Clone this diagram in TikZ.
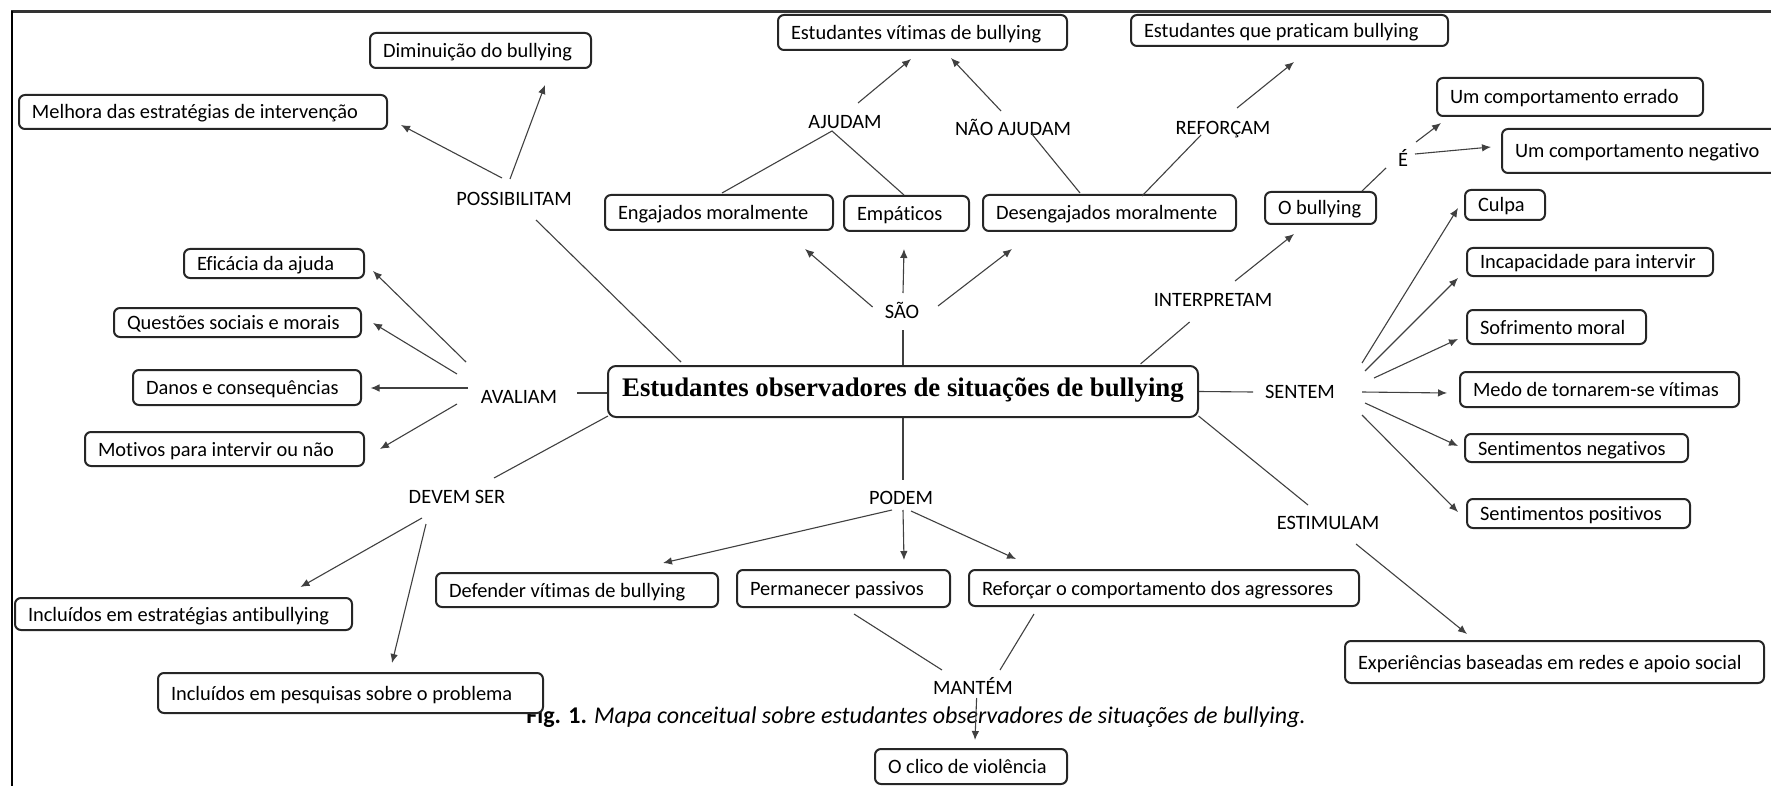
\documentclass[tikz,border=0pt]{standalone}
\usepackage{fontspec}
\setmainfont{Carlito}[Ligatures={NoCommon}]
\newfontfamily\titlefont{Liberation Serif}
\usetikzlibrary{arrows.meta,calc}
\tikzset{
  cbox/.style={draw=black!85, line width=1pt, rounded corners=3pt, fill=white,
    inner xsep=6.5pt, inner ysep=0pt, text height=8.5pt, text depth=1.5pt,
    font=\fontsize{10.2}{12}\selectfont},
  lbl/.style={inner sep=0pt, text height=6.6pt, text depth=0pt,
    font=\fontsize{10.2}{12}\selectfont},
  con/.style={draw=black!75, line width=0.55pt},
  arr/.style={con, -{Latex[length=4.5pt,width=3.8pt]}},
}
\newcommand\mybox[6]{%
  \pgfmathsetlengthmacro\myboxw{(#4-#2)*0.5pt-13pt}%
  \pgfmathsetlengthmacro\myboxh{(#5-#3)*0.5pt}%
  \node[cbox, minimum height=\myboxh, anchor=north west] (#1) at (#2,#3) {\makebox[\myboxw][l]{#6}};%
}
\begin{document}
\begin{tikzpicture}[x=0.5pt,y=-0.5pt]
\useasboundingbox (0,0) rectangle (1771,786);
\clip (0,0) rectangle (1771,786);
% frame
\draw[black!80, line width=1.1pt] (11,11.5) -- (1771,11.5);
\draw[black, line width=1.3pt] (12,11) -- (12,786);
% caption
\node[anchor=base west, inner sep=0pt, font=\fontsize{12}{14}\selectfont] (cap) at (526,723)
  {\textbf{Fig. 1.} \textit{Mapa conceitual sobre estudantes observadores de situações de bullying.}};
% central node
\node[draw=black!85, line width=1pt, rounded corners=4pt, fill=white, minimum width=295pt,
  minimum height=25.5pt, inner sep=0pt, text height=9pt, text depth=4.5pt,
  font=\titlefont\bfseries\fontsize{13.4}{16}\selectfont] (cen) at (903,391.5)
  {Estudantes observadores de situações de bullying};
% boxes
\mybox{dim}{369}{32}{590}{67}{Diminuição do bullying}
\mybox{mel}{18}{94}{386}{128}{Melhora das estratégias de intervenção}
\mybox{efi}{183}{248}{363}{277}{Eficácia da ajuda}
\mybox{que}{113}{307}{360}{336}{Questões sociais e morais}
\mybox{dan}{132}{369}{360}{404}{Danos e consequências}
\mybox{mot}{84}{431}{363}{465}{Motivos para intervir ou não}
\mybox{ies}{14}{597}{351}{629}{Incluídos em estratégias antibullying}
\mybox{ipe}{157}{672}{542}{712}{Incluídos em pesquisas sobre o problema}
\mybox{def}{435}{572}{717}{606}{Defender vítimas de bullying}
\mybox{per}{736}{569}{949}{606}{Permanecer passivos}
\mybox{ref}{968}{569}{1358}{605}{Reforçar o comportamento dos agressores}
\mybox{cli}{874}{748}{1066}{783}{O clico de violência}
\mybox{vit}{777}{14}{1066}{49}{Estudantes vítimas de bullying}
\mybox{pra}{1130}{14}{1447}{45}{Estudantes que praticam bullying}
\mybox{eng}{604}{194}{832}{229}{Engajados moralmente}
\mybox{emp}{843}{195}{968}{230}{Empáticos}
\mybox{des}{982}{194}{1235}{230}{Desengajados moralmente}
\mybox{obu}{1264}{191}{1375}{223}{O bullying}
\mybox{err}{1436}{77}{1702}{115}{Um comportamento errado}
\mybox{neg}{1501}{128}{1790}{172}{Um comportamento negativo}
\mybox{cul}{1464}{189}{1544}{219}{Culpa}
\mybox{inc}{1466}{247}{1712}{275}{Incapacidade para intervir}
\mybox{sof}{1466}{309}{1645}{343}{Sofrimento moral}
\mybox{med}{1459}{371}{1738}{406}{Medo de tornarem-se vítimas}
\mybox{sng}{1464}{433}{1687}{461}{Sentimentos negativos}
\mybox{spo}{1466}{498}{1689}{527}{Sentimentos positivos}
\mybox{exp}{1344}{640}{1763}{682}{Experiências baseadas em redes e apoio social}
% linking words
\node[lbl] (poss) at (514,199) {POSSIBILITAM};
\node[lbl] (ava) at (519,397) {AVALIAM};
\node[lbl] (dev) at (457,497) {DEVEM SER};
\node[lbl] (aju) at (845,122) {AJUDAM};
\node[lbl] (nao) at (1013,129) {NÃO AJUDAM};
\node[lbl] (rfc) at (1223,128) {REFORÇAM};
\node[lbl] (sao) at (902,312) {SÃO};
\node[lbl] (int) at (1213,300) {INTERPRETAM};
\node[lbl] (eh) at (1403,160) {É};
\node[lbl] (sen) at (1300,392) {SENTEM};
\node[lbl] (est) at (1328,523) {ESTIMULAM};
\node[lbl] (pod) at (901,498) {PODEM};
\node[lbl] (man) at (973,688) {MANTÉM};
% POSSIBILITAM
\draw[arr] ($(poss)+(-12,-21)$) -- ($(mel.south east)+(13,-5)$);
\draw[arr] ($(poss)+(-4,-20)$) -- ($(dim.south)+(64.5,16)$);
\draw[con] ($(poss)+(22,21)$) -- ($(cen.north west)+(74,-3)$);
% AVALIAM
\draw[arr] ($(ava)+(-53,-35)$) -- ($(efi.south east)+(8,-8)$);
\draw[arr] ($(ava)+(-62,-23)$) -- ($(que.east)+(11,0.5)$);
\draw[arr] ($(ava)+(-51,-9)$) -- ($(dan.east)+(8.5,0.5)$);
\draw[arr] ($(ava)+(-62,7)$) -- ($(mot.east)+(15,0)$);
\draw[con] ($(ava)+(58,-4)$) -- ($(cen.west)+(0,1.5)$);
% DEVEM SER
\draw[con] ($(dev)+(37,-19)$) -- ($(cen.south west)+(1,-2)$);
\draw[arr] ($(dev)+(-35,21)$) -- ($(ies.north east)+(-52.5,-10)$);
\draw[arr] ($(dev)+(-31,27)$) -- ($(ipe.north)+(41.5,-9)$);
% AJUDAM
\draw[arr] ($(aju)+(13,-19)$) -- ($(vit.south)+(-11.5,8)$);
\draw[con] ($(eng.north)+(3,-1)$) -- ($(aju)+(-13,9)$) -- ($(emp.north)+(-2.5,0)$);
% NAO AJUDAM
\draw[arr] ($(nao)+(-12,-18)$) -- ($(vit.south)+(28.5,7)$);
\draw[con] ($(nao)+(18,4)$) -- ($(des.north)+(-29.5,-1)$);
% REFORCAM
\draw[con] ($(des.north)+(32.5,2)$) -- ($(rfc)+(-22,7)$);
\draw[arr] ($(rfc)+(14,-20)$) -- ($(pra.south)+(4.5,15)$);
% SAO
\draw[arr] ($(sao)+(-29.4,-5)$) -- ($(eng.south east)+(-29,18)$);
\draw[arr] ($(sao)+(1,-19)$) -- ($(emp.south)+(-2.5,17)$);
\draw[arr] ($(sao)+(36,-6)$) -- ($(des.south west)+(30,17)$);
\draw[con] ($(sao)+(1,18)$) -- (cen.north);
% INTERPRETAM
\draw[con] ($(int)+(-23.4,22)$) -- ($(cen.north east)+(-58.5,-1)$);
\draw[arr] ($(int)+(22,-19)$) -- ($(obu.south)+(-26.5,9)$);
% E
\draw[con] ($(obu.north)+(41.5,0)$) -- ($(eh)+(-17,8)$);
\draw[arr] ($(eh)+(13,-18)$) -- ($(err.south west)+(5,6)$);
\draw[arr] ($(eh)+(12,-6)$) -- ($(neg.west)+(-10,-4)$);
% SENTEM
\draw[con] (cen.east) -- ($(sen)+(-47,0)$);
\draw[arr] ($(sen)+(62,-29)$) -- ($(cul.west)+(-6,3)$);
\draw[arr] ($(sen)+(65,-21)$) -- ($(inc.south west)+(-8,1)$);
\draw[arr] ($(sen)+(74,-14)$) -- ($(sof.west)+(-8,12)$);
\draw[arr] ($(sen)+(62,0)$) -- ($(med.west)+(-12,3.5)$);
\draw[arr] ($(sen)+(65,11)$) -- ($(sng.west)+(-6,-2)$);
\draw[arr] ($(sen)+(62,23)$) -- ($(spo.west)+(-8,-1.5)$);
% ESTIMULAM
\draw[con] ($(cen.south east)+(-0.5,-2)$) -- ($(est)+(-20,-18)$);
\draw[arr] ($(est)+(28,21)$) -- ($(exp.north west)+(123,-6)$);
% PODEM
\draw[con] (cen.south) -- ($(pod)+(2,-18)$);
\draw[arr] ($(pod)+(-9,12)$) -- ($(def.north east)+(-56,-9)$);
\draw[arr] ($(pod)+(2,12)$) -- ($(per.north)+(60.5,-9)$);
\draw[arr] ($(pod)+(10,13)$) -- ($(ref.north west)+(48,-10)$);
% MANTEM
\draw[con] ($(per.south)+(10.5,6)$) -- ($(man)+(-31,-18)$);
\draw[con] ($(ref.south west)+(66,7)$) -- ($(man)+(27,-18)$);
\draw[arr] ($(man)+(3.6,10)$) -- ($(cli.north)+(4,-8)$);
\end{tikzpicture}
\end{document}
